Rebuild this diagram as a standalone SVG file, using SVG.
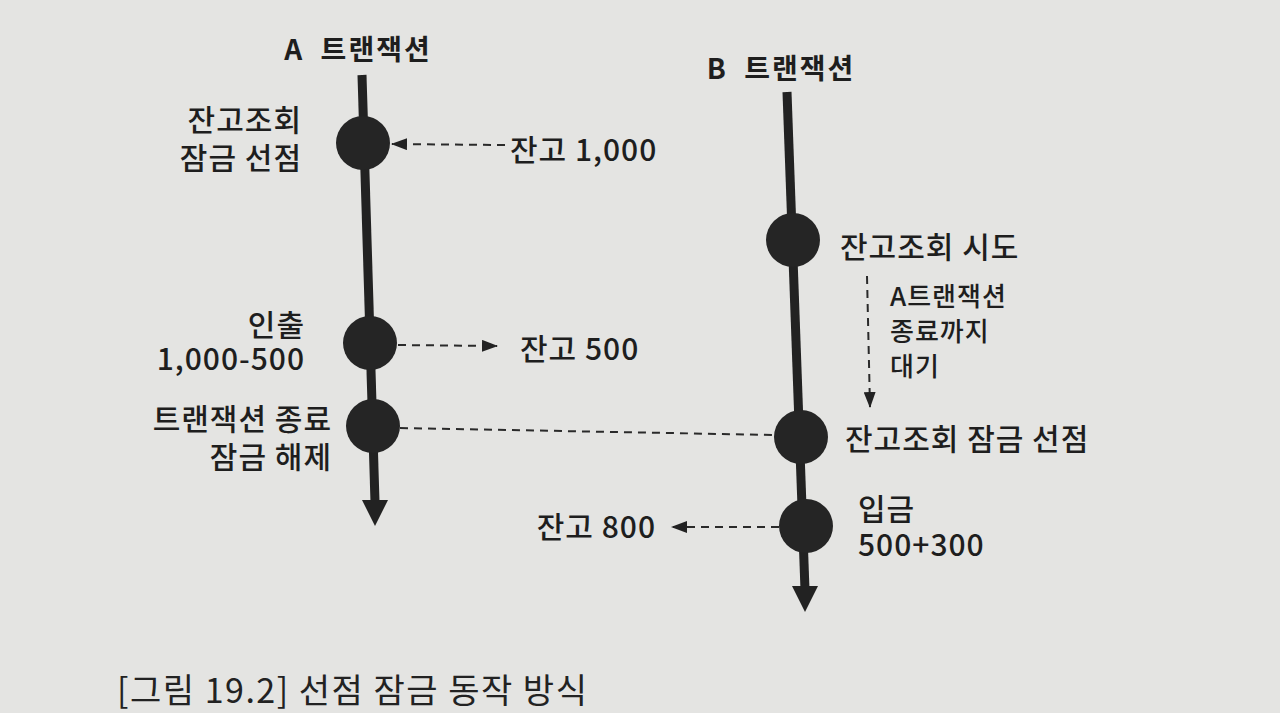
<svg xmlns="http://www.w3.org/2000/svg" width="1280" height="713" viewBox="0 0 1280 713">
<defs>
<style>
.t{font-family:"Noto Sans CJK KR","Noto Sans",sans-serif;font-size:30px;letter-spacing:1px;fill:#1e1e1e;font-weight:500}
.h{font-family:"Noto Sans CJK KR","Noto Sans",sans-serif;font-size:28px;letter-spacing:2px;word-spacing:8px;fill:#1e1e1e;font-weight:700}
.s{font-family:"Noto Sans CJK KR","Noto Sans",sans-serif;font-size:26px;letter-spacing:1px;fill:#1e1e1e;font-weight:500}
.cap{font-family:"Noto Sans CJK KR","Noto Sans",sans-serif;font-size:34px;letter-spacing:1.5px;fill:#222;font-weight:400}
.tl{stroke:#222;stroke-width:9;fill:none}
.dash{stroke:#2a2a2a;stroke-width:2;stroke-dasharray:8 6;fill:none}
.dot{fill:#252525}
</style>
<marker id="ahs" markerWidth="16" markerHeight="12" refX="15" refY="6" orient="auto" markerUnits="userSpaceOnUse" viewBox="0 0 16 12">
<path d="M0,0 L16,6 L0,12 Z" fill="#222"/>
</marker>
</defs>
<rect width="1280" height="713" fill="#e4e4e2"/>
<g id="txA">
<text class="h" x="358" y="60" text-anchor="middle">A 트랜잭션</text>
<line class="tl" x1="362" y1="75" x2="375" y2="502"/>
<path d="M362,500 L388,500 L375,526 Z" fill="#222"/>
</g>
<g id="txB">
<text class="h" x="781" y="79" text-anchor="middle">B 트랜잭션</text>
<line class="tl" x1="787" y1="92" x2="805" y2="590"/>
<path d="M792,586 L818,586 L805,612 Z" fill="#222"/>
</g>
<g id="a1"><circle class="dot" cx="363" cy="143" r="27"/>
<text class="t" x="302" y="131" text-anchor="end">잔고조회</text>
<text class="t" x="302" y="169" text-anchor="end">잠금 선점</text></g>
<g id="a2"><circle class="dot" cx="370" cy="343" r="27"/>
<text class="t" x="305" y="336" text-anchor="end">인출</text>
<text class="t" x="305" y="370" text-anchor="end">1,000-500</text></g>
<g id="a3"><circle class="dot" cx="373" cy="426" r="27"/>
<text class="t" x="332" y="430" text-anchor="end">트랜잭션 종료</text>
<text class="t" x="332" y="468" text-anchor="end">잠금 해제</text></g>
<g id="b1"><circle class="dot" cx="793" cy="240" r="27"/>
<text class="t" x="840" y="258">잔고조회 시도</text></g>
<g id="b2"><circle class="dot" cx="801" cy="437" r="27"/>
<text class="t" x="845" y="450">잔고조회 잠금 선점</text></g>
<g id="b3"><circle class="dot" cx="806" cy="526" r="27"/>
<text class="t" x="858" y="520">입금</text>
<text class="t" x="858" y="556">500+300</text></g>
<g id="labels">
<text class="t" x="510" y="161">잔고 1,000</text>
<text class="t" x="520" y="360">잔고 500</text>
<text class="t" x="656" y="538" text-anchor="end">잔고 800</text>
<text class="s" x="890" y="306">A트랜잭션</text>
<text class="s" x="890" y="341">종료까지</text>
<text class="s" x="890" y="376">대기</text>
</g>
<g id="connectors">
<line class="dash" x1="505" y1="145" x2="392" y2="144" marker-end="url(#ahs)"/>
<line class="dash" x1="398" y1="345" x2="497" y2="346" marker-end="url(#ahs)"/>
<line class="dash" x1="400" y1="428" x2="775" y2="435"/>
<line class="dash" x1="779" y1="527" x2="672" y2="527" marker-end="url(#ahs)"/>
<line class="dash" x1="867" y1="276" x2="870" y2="407" marker-end="url(#ahs)"/>
</g>
<text class="cap" x="117" y="703">[그림 19.2] 선점 잠금 동작 방식</text>
</svg>
